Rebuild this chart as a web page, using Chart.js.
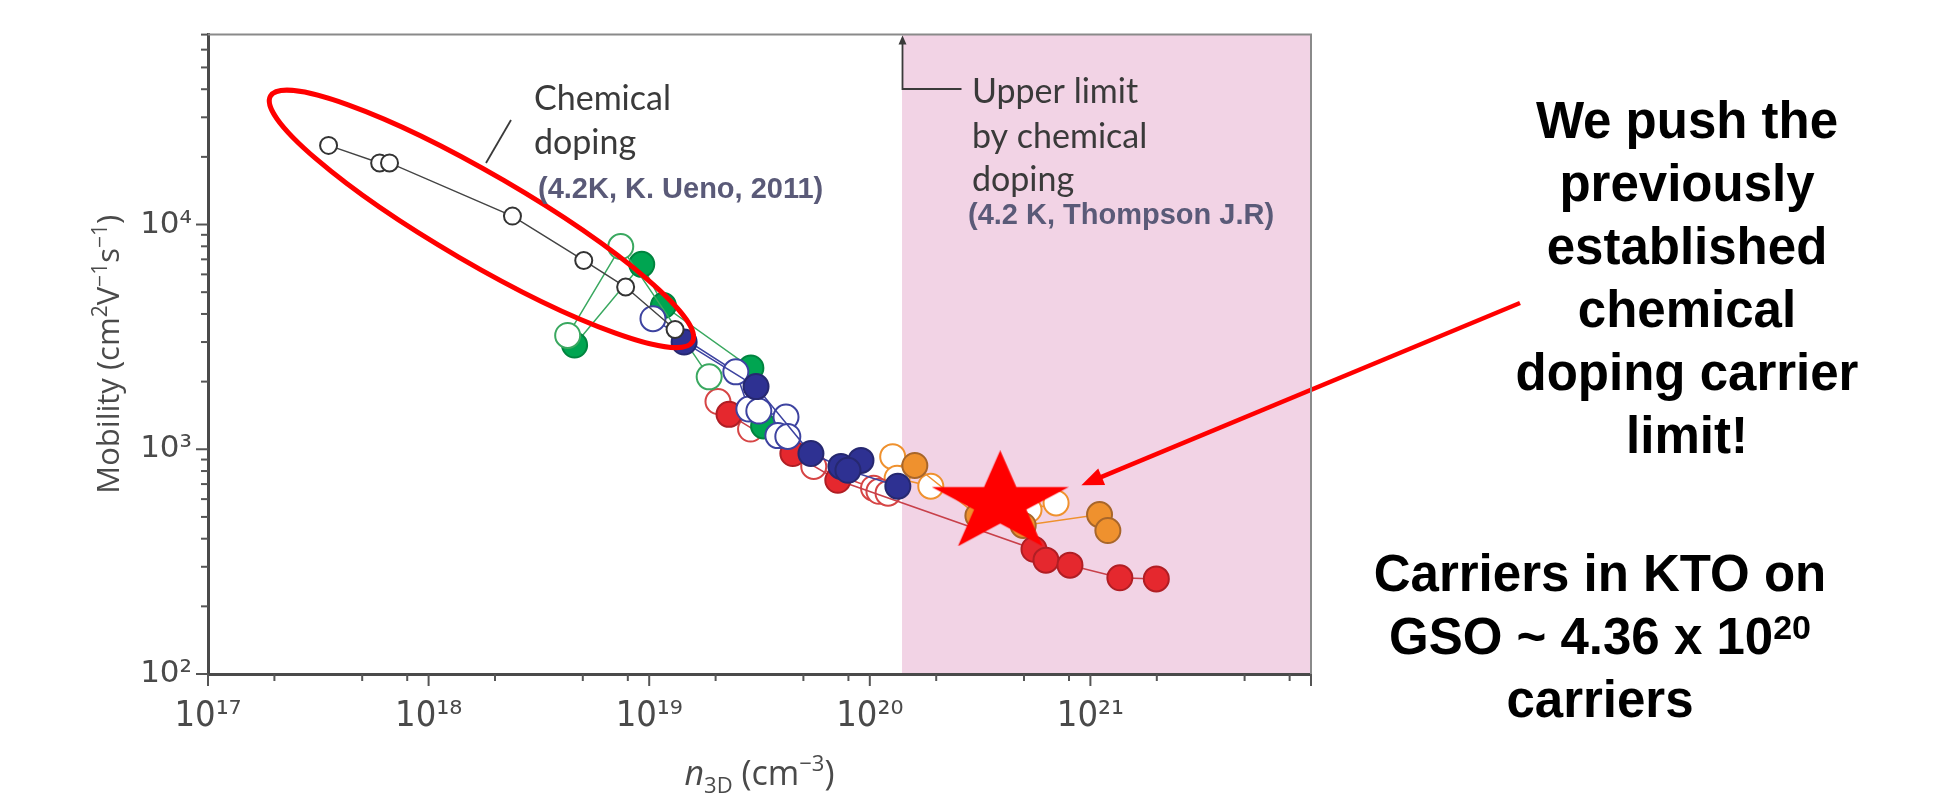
<!DOCTYPE html>
<html>
<head>
<meta charset="utf-8">
<script src="https://cdn.jsdelivr.net/npm/chart.js@4.4.0/dist/chart.umd.min.js"></script>
<style>
  html, body { margin: 0; padding: 0; background: #fff; }
  #wrap { position: relative; width: 1934px; height: 797px; overflow: hidden; }
  #mob { position: absolute; left: 0; top: 0; }
  .note { position: absolute; width: 560px; text-align: center; color: #000;
          font-family: "Liberation Sans", Arial, sans-serif; font-weight: bold;
          font-size: 51px; line-height: 63px; }
  .note sup { font-size: 34px; line-height: 0; vertical-align: baseline; position: relative; top: -15px; }
</style>
</head>
<body>
<div id="wrap">
  <canvas id="mob" width="1934" height="797"></canvas>
  <div class="note" style="left:1407px; top:89px;">We push the<br>previously<br>established<br>chemical<br>doping carrier<br>limit!</div>
  <div class="note" style="left:1320px; top:542px;">Carriers in KTO on<br>GSO ~ 4.36 x 10<sup>20</sup><br>carriers</div>
</div>
<script>
// carrier density n3D (cm^-3) and mobility (cm^2 V^-1 s^-1)
var chemN   = [3.52e17, 6.0e17, 6.65e17, 2.40e18, 5.05e18, 7.82e18, 1.31e19];
var chemMu  = [2.25e4, 1.88e4, 1.88e4, 1.09e4, 6.92e3, 5.27e3, 3.41e3];

var greenOpenN  = [4.27e18, 7.43e18, 1.87e19];
var greenOpenMu = [3.21e3, 7.98e3, 2.10e3];
var greenFillN  = [4.59e18, 9.25e18, 1.16e19, 2.89e19, 3.3e19];
var greenFillMu = [2.91e3, 6.65e3, 4.36e3, 2.30e3, 1.27e3];

var blueOpenN  = [1.04e19, 2.47e19, 2.83e19, 3.14e19, 4.17e19, 3.83e19, 4.25e19];
var blueOpenMu = [3.81e3, 2.21e3, 1.51e3, 1.48e3, 1.39e3, 1.15e3, 1.14e3];
var blueFillN  = [1.44e19, 3.05e19, 5.41e19, 7.40e19, 9.12e19, 7.96e19, 1.34e20];
var blueFillMu = [3.0e3, 1.90e3, 957, 839, 892, 806, 685];

var redOpenN  = [2.05e19, 2.88e19, 5.57e19, 1.04e20, 1.10e20, 1.21e20];
var redOpenMu = [1.63e3, 1.23e3, 839, 671, 650, 638];
var redFillN  = [2.30e19, 4.48e19, 7.16e19, 5.55e20, 6.29e20, 8.08e20, 1.36e21, 1.99e21];
var redFillMu = [1.43e3, 957, 728, 359, 321, 305, 268, 265];

var orangeOpenN  = [1.27e20, 1.33e20, 1.89e20, 5.27e20, 6.99e20];
var orangeOpenMu = [927, 743, 685, 538, 577];
var orangeFillN  = [1.60e20, 3.09e20, 4.96e20, 1.10e21, 1.20e21];
var orangeFillMu = [847, 506, 458, 512, 435];

var starN  = [3.9e20];
var starMu = [605];

var limitN = 1.4e20;                       // upper limit by chemical doping
var ellipseN  = [1.92e17, 1.57e19];        // ends of the hand-drawn ellipse
var ellipseMu = [3.73e4, 3.01e3];
var arrowTip  = [9.1e20, 692];

var xMajor = [1e17, 1e18, 1e19, 1e20, 1e21, 1e22];
var xTickLabels = ['10¹⁷', '10¹⁸', '10¹⁹', '10²⁰', '10²¹', ''];
var xMinorSteps = [2, 5, 8];
var yMajor = [1e2, 1e3, 1e4];
var yTickLabels = ['10²', '10³', '10⁴'];
var yMinorSteps = [2, 3, 4, 5, 6, 7, 8, 9];

function pts(xs, ys) {
  return xs.map(function (v, i) { return { x: v, y: ys[i] }; });
}

function tickList(major, steps, max) {
  var out = [];
  major.forEach(function (m) {
    out.push({ value: m });
    steps.forEach(function (s) { if (m * s <= max) out.push({ value: m * s }); });
  });
  return out;
}

function isMajor(v, major) {
  for (var i = 0; i < major.length; i++) {
    if (Math.abs(Math.log10(v) - Math.log10(major[i])) < 1e-6) return i;
  }
  return -1;
}

function makeStar(w, h) {
  var c = document.createElement('canvas');
  c.width = w; c.height = h;
  var g = c.getContext('2d');
  var rx = w / (2 * Math.sin(2 * Math.PI / 5));
  var ry = h / (1 + Math.cos(Math.PI / 5));
  g.beginPath();
  for (var i = 0; i < 10; i++) {
    var a = -Math.PI / 2 + i * Math.PI / 5;
    var r = i % 2 ? 0.382 : 1;
    g.lineTo(w / 2 + r * rx * Math.cos(a), ry + r * ry * Math.sin(a));
  }
  g.closePath();
  g.fillStyle = '#ff0000';
  g.fill();
  return c;
}

function series(xs, ys, col, open, ord, line) {
  return {
    data: pts(xs, ys),
    showLine: true,
    borderColor: line || col,
    borderWidth: 1.5,
    pointRadius: 12.5,
    pointBorderWidth: 2,
    pointBorderColor: open ? col : shade(col),
    pointBackgroundColor: open ? '#ffffff' : col,
    order: ord
  };
}

function shade(c) {
  return { '#00a551': '#00843f', '#2e3192': '#262870', '#e5282e': '#b01e24', '#ef912e': '#a8662a' }[c] || c;
}

function rich(ctx, parts, x, y) {
  var w = 0;
  parts.forEach(function (p) { ctx.font = p.f; w += ctx.measureText(p.t).width; });
  var cx = x - w / 2;
  parts.forEach(function (p) {
    ctx.font = p.f;
    ctx.fillText(p.t, cx, y + (p.dy || 0));
    cx += ctx.measureText(p.t).width;
  });
}

var AX = '"Open Sans", sans-serif';

var annot = {
  id: 'annot',
  beforeDraw: function (chart) {
    var ca = chart.chartArea, ctx = chart.ctx;
    var px = chart.scales.x.getPixelForValue(limitN);
    ctx.save();
    ctx.fillStyle = '#f2d3e5';
    ctx.fillRect(px, ca.top, ca.right - px, ca.bottom - ca.top);
    ctx.restore();
  },
  afterDatasetsDraw: function (chart) {
    var ctx = chart.ctx, xs = chart.scales.x, ys = chart.scales.y, ca = chart.chartArea;
    ctx.save();

    // ellipse round the chemical doping data
    var x1 = xs.getPixelForValue(ellipseN[0]), y1 = ys.getPixelForValue(ellipseMu[0]);
    var x2 = xs.getPixelForValue(ellipseN[1]), y2 = ys.getPixelForValue(ellipseMu[1]);
    ctx.beginPath();
    ctx.ellipse((x1 + x2) / 2, (y1 + y2) / 2, Math.hypot(x2 - x1, y2 - y1) / 2, 44.5,
                Math.atan2(y2 - y1, x2 - x1), 0, 2 * Math.PI);
    ctx.strokeStyle = '#ff0000';
    ctx.lineWidth = 5;
    ctx.stroke();

    // labels
    ctx.fillStyle = '#3a3a3a';
    ctx.font = '34px Lato';
    ctx.fillText('Chemical', 534, 110);
    ctx.fillText('doping', 534, 154);
    ctx.fillText('Upper limit', 972, 103);
    ctx.fillText('by chemical', 972, 148);
    ctx.fillText('doping', 972, 191);
    ctx.fillStyle = '#5a5a78';
    ctx.font = 'bold 29px "Liberation Sans", Arial, sans-serif';
    ctx.fillText('(4.2K, K. Ueno, 2011)', 538, 198);
    ctx.fillText('(4.2 K, Thompson J.R)', 968, 224);

    ctx.strokeStyle = '#3a3a3a';
    ctx.lineWidth = 1.8;
    ctx.beginPath();
    ctx.moveTo(486, 163);
    ctx.lineTo(511, 120);
    ctx.stroke();

    // upper limit marker
    var lx = Math.round(xs.getPixelForValue(limitN)) + 0.5;
    ctx.beginPath();
    ctx.moveTo(lx, ca.top + 8);
    ctx.lineTo(lx, 89);
    ctx.lineTo(lx + 59, 89);
    ctx.stroke();
    ctx.fillStyle = '#3a3a3a';
    ctx.beginPath();
    ctx.moveTo(lx, ca.top + 1);
    ctx.lineTo(lx - 4, ca.top + 10);
    ctx.lineTo(lx + 4, ca.top + 10);
    ctx.closePath();
    ctx.fill();

    // red arrow from the note to the star
    var tx = xs.getPixelForValue(arrowTip[0]), ty = ys.getPixelForValue(arrowTip[1]);
    var sx = 1520, sy = 303;
    var ang = Math.atan2(ty - sy, tx - sx);
    ctx.strokeStyle = '#ff0000';
    ctx.fillStyle = '#ff0000';
    ctx.lineWidth = 4.5;
    ctx.beginPath();
    ctx.moveTo(sx, sy);
    ctx.lineTo(tx - 16 * Math.cos(ang), ty - 16 * Math.sin(ang));
    ctx.stroke();
    ctx.beginPath();
    ctx.moveTo(tx, ty);
    ctx.lineTo(tx - 22 * Math.cos(ang) + 9 * Math.sin(ang), ty - 22 * Math.sin(ang) - 9 * Math.cos(ang));
    ctx.lineTo(tx - 22 * Math.cos(ang) - 9 * Math.sin(ang), ty - 22 * Math.sin(ang) + 9 * Math.cos(ang));
    ctx.closePath();
    ctx.fill();
    ctx.restore();
  },
  afterDraw: function (chart) {
    var ctx = chart.ctx, xs = chart.scales.x, ys = chart.scales.y, ca = chart.chartArea;
    ctx.save();
    // frame
    ctx.strokeStyle = '#8a8a8a';
    ctx.lineWidth = 2;
    ctx.beginPath();
    ctx.moveTo(ca.left, ca.top);
    ctx.lineTo(ca.right, ca.top);
    ctx.lineTo(ca.right, ca.bottom);
    ctx.stroke();

    // tick marks
    ctx.strokeStyle = '#555';
    ctx.lineWidth = 2;
    xs.ticks.forEach(function (t) {
      var p = xs.getPixelForValue(t.value);
      var len = isMajor(t.value, xMajor) >= 0 ? 12 : 7;
      ctx.beginPath();
      ctx.moveTo(p, ca.bottom);
      ctx.lineTo(p, ca.bottom + len);
      ctx.stroke();
    });
    ys.ticks.forEach(function (t) {
      var p = ys.getPixelForValue(t.value);
      var len = isMajor(t.value, yMajor) >= 0 ? 12 : 7;
      ctx.beginPath();
      ctx.moveTo(ca.left, p);
      ctx.lineTo(ca.left - len, p);
      ctx.stroke();
    });

    // axis titles
    ctx.fillStyle = '#4a4a4a';
    rich(ctx, [
      { t: 'n', f: 'italic 34px ' + AX },
      { t: '3D', f: '22px ' + AX, dy: 8 },
      { t: ' (cm', f: '34px ' + AX },
      { t: '\u22123', f: '22px ' + AX, dy: -14 },
      { t: ')', f: '34px ' + AX }
    ], (ca.left + ca.right) / 2, 785);

    ctx.translate(119, (ca.top + ca.bottom) / 2);
    ctx.rotate(-Math.PI / 2);
    rich(ctx, [
      { t: 'Mobility (cm', f: '31px ' + AX },
      { t: '2', f: '21px ' + AX, dy: -12 },
      { t: 'V', f: '31px ' + AX },
      { t: '\u22121', f: '21px ' + AX, dy: -12 },
      { t: 's', f: '31px ' + AX },
      { t: '\u22121', f: '21px ' + AX, dy: -12 },
      { t: ')', f: '31px ' + AX }
    ], 0, 0);
    ctx.restore();
  }
};

var chart = new Chart(document.getElementById('mob'), {
  type: 'scatter',
  data: {
    datasets: [
      {
        data: pts(starN, starMu),
        pointStyle: makeStar(137, 96),
        pointRadius: 10,
        order: 0
      },
      {
        data: pts(chemN, chemMu),
        showLine: true,
        borderColor: '#444',
        borderWidth: 1.5,
        pointRadius: 8.5,
        pointBorderWidth: 2,
        pointBorderColor: '#333',
        pointBackgroundColor: '#fff',
        order: 1
      },
      series(blueFillN, blueFillMu, '#2e3192', false, 2, '#3d43a0'),
      series(blueOpenN, blueOpenMu, '#3d43a0', true, 3),
      series(greenOpenN, greenOpenMu, '#3aa860', true, 4),
      series(greenFillN, greenFillMu, '#00a551', false, 5, '#3aa860'),
      series(redFillN, redFillMu, '#e5282e', false, 6, '#c8404a'),
      series(redOpenN, redOpenMu, '#d64545', true, 7),
      series(orangeFillN, orangeFillMu, '#ef912e', false, 8),
      series(orangeOpenN, orangeOpenMu, '#ef912e', true, 9)
    ]
  },
  options: {
    responsive: false,
    animation: false,
    layout: { padding: { left: 0, right: 623, top: 25, bottom: 0 } },
    plugins: { legend: { display: false }, tooltip: { enabled: false } },
    scales: {
      x: {
        type: 'logarithmic',
        min: 1e17,
        max: 1e22,
        grid: { display: false, drawTicks: false },
        border: { display: true, color: '#4a4a4a', width: 3 },
        ticks: {
          autoSkip: false,
          maxRotation: 0,
          padding: 21,
          color: '#4a4a4a',
          font: { family: '"Liberation Sans Narrow", "DejaVu Sans Condensed", sans-serif', size: 36 },
          callback: function (v) {
            var i = isMajor(v, xMajor);
            return i >= 0 ? xTickLabels[i] : '';
          }
        },
        afterBuildTicks: function (s) { s.ticks = tickList(xMajor, xMinorSteps, 1e22); },
        afterFit: function (s) { s.height = 123; }
      },
      y: {
        type: 'logarithmic',
        min: 1e2,
        max: 7e4,
        grid: { display: false, drawTicks: false },
        border: { display: true, color: '#4a4a4a', width: 3 },
        ticks: {
          autoSkip: false,
          padding: 16,
          color: '#4a4a4a',
          font: { family: '"DejaVu Sans", sans-serif', size: 31 },
          callback: function (v) {
            var i = isMajor(v, yMajor);
            return i >= 0 ? yTickLabels[i] : '';
          }
        },
        afterBuildTicks: function (s) { s.ticks = tickList(yMajor, yMinorSteps, 7e4); },
        afterFit: function (s) { s.width = 208; }
      }
    }
  },
  plugins: [annot]
});
</script>
</body>
</html>
